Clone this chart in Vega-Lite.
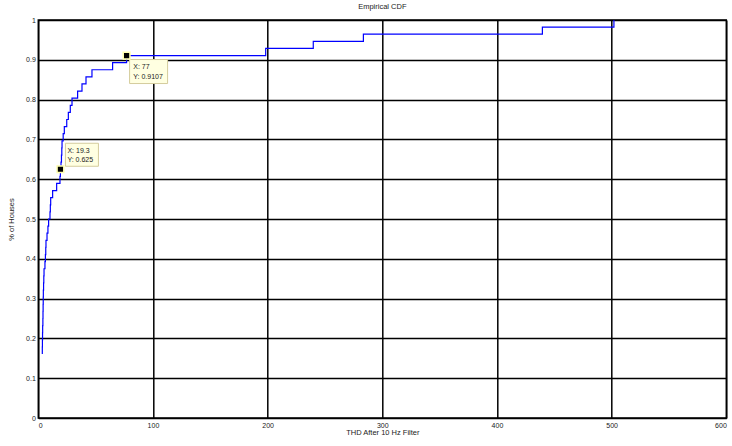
{
  "$schema": "https://vega.github.io/schema/vega-lite/v6.json",
  "width": 688,
  "height": 398,
  "autosize": {"type": "none"},
  "padding": {"left": 38.3, "top": 20, "right": 5.7, "bottom": 28},
  "background": "white",
  "title": {"text": "Empirical CDF", "font": "Liberation Sans", "fontSize": 7.5, "fontWeight": "normal", "color": "#222", "offset": 6},
  "config": {
    "view": {"stroke": "black", "strokeWidth": 1.5},
    "axis": {
      "gridColor": "black", "gridOpacity": 1, "gridWidth": 1.5,
      "domain": false, "ticks": false,
      "labelFont": "Liberation Sans", "labelFontSize": 7, "labelColor": "#222",
      "titleFont": "Liberation Sans", "titleFontSize": 7.5, "titleFontWeight": "normal", "titleColor": "#222"
    }
  },
  "datasets": {
    "cdf": [
      {"thd": 3.5, "cdf": 0.1607},
      {"thd": 3.5, "cdf": 0.1786},
      {"thd": 3.6, "cdf": 0.1964},
      {"thd": 3.7, "cdf": 0.2143},
      {"thd": 3.8, "cdf": 0.2321},
      {"thd": 4.0, "cdf": 0.25},
      {"thd": 4.1, "cdf": 0.2679},
      {"thd": 4.2, "cdf": 0.2857},
      {"thd": 4.3, "cdf": 0.3036},
      {"thd": 4.4, "cdf": 0.3214},
      {"thd": 4.6, "cdf": 0.3393},
      {"thd": 4.8, "cdf": 0.3571},
      {"thd": 5.0, "cdf": 0.375},
      {"thd": 5.8, "cdf": 0.3929},
      {"thd": 6.2, "cdf": 0.4107},
      {"thd": 6.5, "cdf": 0.4286},
      {"thd": 6.7, "cdf": 0.4464},
      {"thd": 7.6, "cdf": 0.4643},
      {"thd": 8.4, "cdf": 0.4821},
      {"thd": 9.0, "cdf": 0.5},
      {"thd": 10.2, "cdf": 0.5179},
      {"thd": 10.5, "cdf": 0.5357},
      {"thd": 10.8, "cdf": 0.5536},
      {"thd": 12.5, "cdf": 0.5714},
      {"thd": 16.0, "cdf": 0.5893},
      {"thd": 18.9, "cdf": 0.6071},
      {"thd": 19.3, "cdf": 0.625},
      {"thd": 19.8, "cdf": 0.6429},
      {"thd": 20.2, "cdf": 0.6607},
      {"thd": 20.5, "cdf": 0.6786},
      {"thd": 20.7, "cdf": 0.6964},
      {"thd": 21.7, "cdf": 0.7143},
      {"thd": 22.7, "cdf": 0.7321},
      {"thd": 24.8, "cdf": 0.75},
      {"thd": 26.2, "cdf": 0.7679},
      {"thd": 27.9, "cdf": 0.7857},
      {"thd": 29.4, "cdf": 0.8036},
      {"thd": 34.3, "cdf": 0.8214},
      {"thd": 38.1, "cdf": 0.8393},
      {"thd": 41.6, "cdf": 0.8571},
      {"thd": 46.8, "cdf": 0.875},
      {"thd": 64.8, "cdf": 0.8929},
      {"thd": 77.0, "cdf": 0.9107},
      {"thd": 198.3, "cdf": 0.9286},
      {"thd": 239.8, "cdf": 0.9464},
      {"thd": 283.5, "cdf": 0.9643},
      {"thd": 439.6, "cdf": 0.9821},
      {"thd": 502.0, "cdf": 1.0}
    ],
    "tips": [
      {"thd": 19.3, "cdf": 0.625, "label": ["X: 19.3", "Y: 0.625"], "pos": "above"},
      {"thd": 77, "cdf": 0.9107, "label": ["X: 77", "Y: 0.9107"], "pos": "below"}
    ]
  },
  "encoding": {
    "x": {"field": "thd", "type": "quantitative", "scale": {"domain": [0, 600], "nice": false},
          "axis": {"values": [0, 100, 200, 300, 400, 500, 600], "title": "THD After 10 Hz Filter", "labelPadding": 3, "titlePadding": 0}},
    "y": {"field": "cdf", "type": "quantitative", "scale": {"domain": [0, 1], "nice": false},
          "axis": {"values": [0, 0.1, 0.2, 0.3, 0.4, 0.5, 0.6, 0.7, 0.8, 0.9, 1], "format": "~g", "title": "% of Houses", "labelPadding": 3, "titlePadding": 10}}
  },
  "layer": [
    {
      "data": {"name": "cdf"},
      "mark": {"type": "line", "interpolate": "step-after", "color": "#0000ff", "strokeWidth": 1.2, "clip": true}
    },
    {
      "data": {"name": "tips"},
      "transform": [{"filter": "datum.pos == 'above'"}],
      "mark": {"type": "point", "shape": "M5,-26h33v23h-33Z", "size": 4, "filled": true, "fill": "#ffffe1", "stroke": "#d4cc9c", "strokeWidth": 1, "opacity": 1}
    },
    {
      "data": {"name": "tips"},
      "transform": [{"filter": "datum.pos == 'below'"}],
      "mark": {"type": "point", "shape": "M3,4h38v24h-38Z", "size": 4, "filled": true, "fill": "#ffffe1", "stroke": "#d4cc9c", "strokeWidth": 1, "opacity": 1}
    },
    {
      "data": {"name": "tips"},
      "mark": {"type": "point", "shape": "square", "size": 45, "filled": true, "fill": "black", "stroke": "#ffffb0", "strokeWidth": 1.5, "opacity": 1}
    },
    {
      "data": {"name": "tips"},
      "transform": [{"filter": "datum.pos == 'above'"}],
      "mark": {"type": "text", "align": "left", "baseline": "alphabetic", "dx": 7, "dy": -16.5, "lineHeight": 9.5, "font": "Liberation Sans", "fontSize": 7, "color": "#222"},
      "encoding": {"text": {"field": "label"}}
    },
    {
      "data": {"name": "tips"},
      "transform": [{"filter": "datum.pos == 'below'"}],
      "mark": {"type": "text", "align": "left", "baseline": "alphabetic", "dx": 6.7, "dy": 13.8, "lineHeight": 9.5, "font": "Liberation Sans", "fontSize": 7, "color": "#222"},
      "encoding": {"text": {"field": "label"}}
    }
  ]
}
